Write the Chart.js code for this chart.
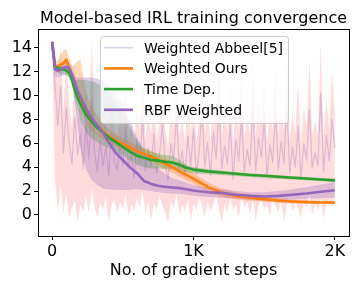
<!DOCTYPE html>
<html><head><meta charset="utf-8">
<script src="https://cdn.jsdelivr.net/npm/chart.js@4.4.1/dist/chart.umd.min.js"></script>
<style>html,body{margin:0;padding:0;background:#fff;}canvas{display:block;}</style>
</head><body>
<canvas id="c" width="360" height="288"></canvas>
<script>
const titleText = 'Model-based IRL training convergence';
const xAxisLabel = 'No. of gradient steps';
const seriesNames = ['Weighted Abbeel[5]', 'Weighted Ours', 'Time Dep.', 'RBF Weighted'];
const xTickValues = [0, 1000, 2000];
const xTickLabels = ['0', '1K', '2K'];
const yTickValues = [0, 2, 4, 6, 8, 10, 12, 14];

// Weighted Abbeel[5]: sampled every 20 gradient steps
const abbeelStepSize = 20;
const abbeelMean = [14.5,11.0,7.5,10.8,5.2,9.0,6.1,4.3,8.2,5.0,6.8,3.9,7.5,4.6,9.8,5.3,3.6,6.2,4.1,5.7,
  3.3,6.9,4.5,3.8,5.9,4.2,7.3,3.9,5.0,3.1,6.4,4.4,8.1,3.7,5.6,4.0,6.8,3.5,5.1,7.7,
  4.3,2.9,6.0,4.6,8.6,3.8,5.4,3.2,6.6,4.1,7.2,3.4,5.3,8.9,4.0,6.1,3.3,7.0,4.7,9.4,
  3.9,5.8,4.2,7.6,3.0,6.3,4.5,8.3,3.6,5.5,4.1,9.1,3.7,6.5,4.8,7.9,3.2,5.9,4.4,8.7,
  3.8,6.2,4.3,9.6,3.5,5.7,4.0,7.4,3.1,6.0,4.6,8.8,3.9,5.2,4.1,10.2,3.6,6.7,4.5,8.0,5.6];
const abbeelLo = [14.5,3.0,0.4,2.5,0.2,1.8,-0.3,0.6,1.2,-0.6,0.9,0.3,1.6,0.1,2.2,0.7,-0.2,1.0,0.4,1.5,
  -0.5,0.8,1.3,0.2,1.1,0.5,1.7,-0.1,0.9,0.3,1.4,0.6,2.0,0.1,1.2,-0.4,1.0,0.4,1.5,0.7,
  0.2,-0.7,1.1,0.5,1.8,0.0,0.9,0.3,1.3,-0.5,1.0,0.4,1.4,0.8,-0.2,1.2,0.3,0.9,1.6,0.5,
  -0.6,1.0,0.2,1.5,0.4,0.9,-0.3,1.7,0.6,1.1,0.1,1.4,-0.5,0.8,1.3,0.4,1.0,-0.1,1.6,0.7,
  0.2,1.2,-0.6,0.9,1.5,0.3,1.1,0.6,-0.4,1.3,0.5,1.8,0.0,1.0,0.4,1.4,-0.3,0.9,1.2,0.6,1.5];
const abbeelHi = [14.5,14.0,11.0,14.2,8.5,13.5,9.2,7.2,12.8,8.0,9.8,6.8,10.6,7.4,14.6,8.2,6.5,9.1,7.0,8.4,
  6.1,10.2,7.3,6.6,8.6,6.9,11.4,6.5,7.8,5.9,9.3,7.1,12.2,6.3,8.3,6.7,9.9,6.2,7.9,11.6,
  7.0,5.7,8.9,7.3,12.9,6.5,8.1,6.0,9.7,6.8,10.8,6.1,8.0,13.3,6.7,9.2,6.0,10.6,7.5,13.8,
  6.6,8.7,6.9,11.3,5.8,9.4,7.2,12.6,6.3,8.2,6.8,13.5,6.4,9.6,7.6,11.9,5.9,8.8,7.1,13.0,
  6.5,9.3,7.0,14.0,6.2,8.5,6.7,11.2,5.8,9.0,7.4,13.1,6.6,7.9,6.8,14.3,6.3,9.8,7.2,12.0,8.4];

// Other methods: gradient steps
const steps = [0,20,40,60,80,100,120,140,160,180,200,240,280,320,360,400,450,500,550,600,650,700,750,800,850,900,950,1000,1100,1200,1300,1400,1500,1600,1700,1800,1900,2000];
const oursMean = [14.5,12.4,12.4,12.6,12.7,13.0,12.3,11.7,11.0,10.3,9.7,8.7,8.0,7.5,7.0,6.6,6.25,5.95,5.65,5.35,5.1,4.9,4.6,4.3,4.0,3.65,3.35,3.05,2.35,1.85,1.6,1.45,1.33,1.2,1.13,1.08,1.05,1.03];
const oursLo = [14.5,12.0,11.9,12.0,12.1,12.3,11.8,11.2,10.4,9.7,9.0,7.6,7.0,6.6,6.3,6.0,5.75,5.5,5.2,4.9,4.65,4.45,4.15,3.85,3.55,3.2,2.9,2.6,1.95,1.5,1.3,1.2,1.12,1.02,0.97,0.94,0.93,0.93];
const oursHi = [14.5,12.8,13.0,13.4,13.8,13.9,13.2,12.5,12.6,12.9,13.0,10.3,9.0,8.3,7.7,7.2,6.75,6.4,6.1,5.8,5.55,5.35,5.05,4.75,4.45,4.1,3.8,3.5,2.75,2.2,1.9,1.72,1.56,1.4,1.3,1.22,1.17,1.13];
const timeMean = [14.5,12.4,12.3,12.2,12.2,12.1,11.9,11.3,10.5,9.8,9.3,8.4,7.8,7.3,6.9,6.5,6.1,5.7,5.3,4.95,4.8,4.6,4.55,4.45,4.4,4.2,3.95,3.8,3.65,3.55,3.45,3.35,3.28,3.2,3.12,3.05,2.97,2.9];
const timeLo = [14.5,12.1,11.9,11.8,11.8,11.7,11.5,10.9,9.8,8.9,8.0,6.9,6.4,6.1,5.8,5.6,5.3,5.0,4.6,4.2,4.0,3.9,3.9,3.85,3.8,3.7,3.6,3.5,3.4,3.35,3.25,3.17,3.1,3.03,2.96,2.89,2.82,2.75];
const timeHi = [14.5,12.6,12.5,12.5,12.5,12.4,12.2,11.6,11.3,11.3,11.3,11.3,11.2,11.0,10.7,10.2,9.5,8.6,7.4,6.2,5.6,5.3,5.15,5.0,4.95,4.6,4.2,4.0,3.85,3.72,3.6,3.5,3.42,3.34,3.26,3.18,3.1,3.03];
const rbfMean = [14.5,12.2,12.1,12.2,12.3,12.4,12.3,11.8,11.1,10.4,9.9,8.9,8.1,7.5,6.9,6.1,5.2,4.6,4.0,3.5,2.85,2.6,2.45,2.35,2.3,2.25,2.15,2.05,1.9,1.85,1.7,1.6,1.55,1.6,1.7,1.8,1.95,2.07];
const rbfLo = [14.5,11.6,11.5,11.6,11.7,11.8,11.6,11.0,9.5,7.5,5.5,3.8,2.9,2.5,2.2,2.15,2.1,2.1,2.1,2.15,2.1,2.0,1.9,1.85,1.8,1.75,1.7,1.6,1.5,1.45,1.35,1.25,1.2,1.25,1.3,1.35,1.4,1.45];
const rbfHi = [14.5,12.6,12.6,12.7,12.8,12.9,12.8,12.4,11.6,11.5,11.5,11.5,11.5,11.4,11.2,10.9,10.2,9.2,7.9,6.5,5.4,4.5,3.9,3.4,3.1,2.9,2.7,2.5,2.25,2.15,2.0,1.9,1.9,2.0,2.15,2.35,2.55,2.75];

const FONT = '"DejaVu Sans", "Liberation Sans", sans-serif';
const colors = {
  abbeelLine: 'rgba(148,103,189,0.32)', abbeelFill: 'rgba(255,0,0,0.14)',
  ours: '#ff7f0e', oursFill: 'rgba(255,127,14,0.3)',
  time: '#2ca02c', timeFill: 'rgba(44,160,44,0.3)',
  rbf: '#9467bd', rbfFill: 'rgba(148,103,189,0.3)'
};

const abbeelX = abbeelMean.map((_, i) => i * abbeelStepSize);
const pts = (xs, ys) => ys.map((y, i) => ({x: xs[i], y}));

function band(xs, hi, lo, fillColor, order) {
  return [
    {label: '_hi', data: pts(xs, hi), borderWidth: 0, pointRadius: 0, fill: '+1', backgroundColor: fillColor, order: order},
    {label: '_lo', data: pts(xs, lo), borderWidth: 0, pointRadius: 0, fill: false, order: order + 1}
  ];
}
function line(label, xs, ys, color, width, order) {
  return {label, data: pts(xs, ys), borderColor: color, borderWidth: width, pointRadius: 0, fill: false, tension: 0, order, borderJoinStyle: 'round', borderCapStyle: 'butt'};
}

const datasets = [
  ...band(abbeelX, abbeelHi, abbeelLo, colors.abbeelFill, 100),
  line(seriesNames[0], abbeelX, abbeelMean, colors.abbeelLine, 1.2, 90),
  ...band(steps, oursHi, oursLo, colors.oursFill, 80),
  ...band(steps, timeHi, timeLo, colors.timeFill, 70),
  ...band(steps, rbfHi, rbfLo, colors.rbfFill, 60),
  line(seriesNames[1], steps, oursMean, colors.ours, 2.6, 30),
  line(seriesNames[2], steps, timeMean, colors.time, 2.6, 20),
  line(seriesNames[3], steps, rbfMean, colors.rbf, 2.6, 10)
];

const decor = {
  id: 'decor',
  afterDatasetsDraw(chart) {
    const {ctx, chartArea: a} = chart;
    ctx.save();
    ctx.strokeStyle = '#000'; ctx.lineWidth = 1;
    ctx.beginPath();
    ctx.moveTo(a.left, a.top + 0.5); ctx.lineTo(a.right + 1, a.top + 0.5);
    ctx.moveTo(a.right + 0.5, a.top); ctx.lineTo(a.right + 0.5, a.bottom + 1);
    ctx.stroke();
    ctx.restore();
  },
  afterDraw(chart) {
    const {ctx, chartArea: a} = chart;
    ctx.save();
    // title
    ctx.fillStyle = '#000';
    ctx.font = '16px ' + FONT;
    ctx.textAlign = 'center'; ctx.textBaseline = 'alphabetic';
    ctx.fillText(titleText, (a.left + a.right) / 2, 23);
    // legend
    const bx = 100.5, by = 36.5, bw = 188, bh = 87, r = 3;
    ctx.beginPath();
    ctx.moveTo(bx + r, by); ctx.lineTo(bx + bw - r, by); ctx.arcTo(bx + bw, by, bx + bw, by + r, r);
    ctx.lineTo(bx + bw, by + bh - r); ctx.arcTo(bx + bw, by + bh, bx + bw - r, by + bh, r);
    ctx.lineTo(bx + r, by + bh); ctx.arcTo(bx, by + bh, bx, by + bh - r, r);
    ctx.lineTo(bx, by + r); ctx.arcTo(bx, by, bx + r, by, r);
    ctx.closePath();
    ctx.fillStyle = 'rgba(255,255,255,0.8)'; ctx.fill();
    ctx.strokeStyle = '#cccccc'; ctx.lineWidth = 1; ctx.stroke();
    const handles = [[colors.abbeelLine, 1.5], [colors.ours, 2.6], [colors.time, 2.6], [colors.rbf, 2.6]];
    ctx.font = '14px ' + FONT; ctx.textAlign = 'left'; ctx.textBaseline = 'alphabetic';
    seriesNames.forEach((name, i) => {
      const yc = 47.7 + i * 20.7;
      ctx.beginPath(); ctx.strokeStyle = handles[i][0]; ctx.lineWidth = handles[i][1];
      ctx.moveTo(104, yc); ctx.lineTo(133, yc); ctx.stroke();
      ctx.fillStyle = '#000';
      ctx.fillText(name, 144, yc + 4.8);
    });
    ctx.restore();
  }
};

new Chart(document.getElementById('c'), {
  type: 'line',
  data: {datasets},
  options: {
    responsive: false, animation: false, devicePixelRatio: 1,
    layout: {padding: {top: 29, right: 11, left: 0, bottom: 0}},
    plugins: {legend: {display: false}, tooltip: {enabled: false}, title: {display: false}},
    scales: {
      x: {
        type: 'linear', min: -100, max: 2100,
        afterBuildTicks: s => { s.ticks = xTickValues.map(v => ({value: v})); },
        afterFit: s => { s.height = 52; },
        ticks: {callback: (v, i) => xTickLabels[i], font: {family: FONT, size: 16}, color: '#000', padding: 2, maxRotation: 0, autoSkip: false},
        grid: {display: true, drawOnChartArea: false, drawTicks: true, tickLength: 4, color: '#000', lineWidth: 1},
        border: {display: true, color: '#000', width: 1},
        title: {display: true, text: xAxisLabel, font: {family: FONT, size: 16}, color: '#000', padding: {top: 0, bottom: 8}}
      },
      y: {
        type: 'linear', min: -1.76, max: 15.57,
        afterBuildTicks: s => { s.ticks = yTickValues.map(v => ({value: v})); },
        afterFit: s => { s.width = 38; },
        ticks: {font: {family: FONT, size: 16}, color: '#000', padding: 2},
        grid: {display: true, drawOnChartArea: false, drawTicks: true, tickLength: 4, color: '#000', lineWidth: 1},
        border: {display: true, color: '#000', width: 1}
      }
    }
  },
  plugins: [decor]
});
</script>
</body></html>
